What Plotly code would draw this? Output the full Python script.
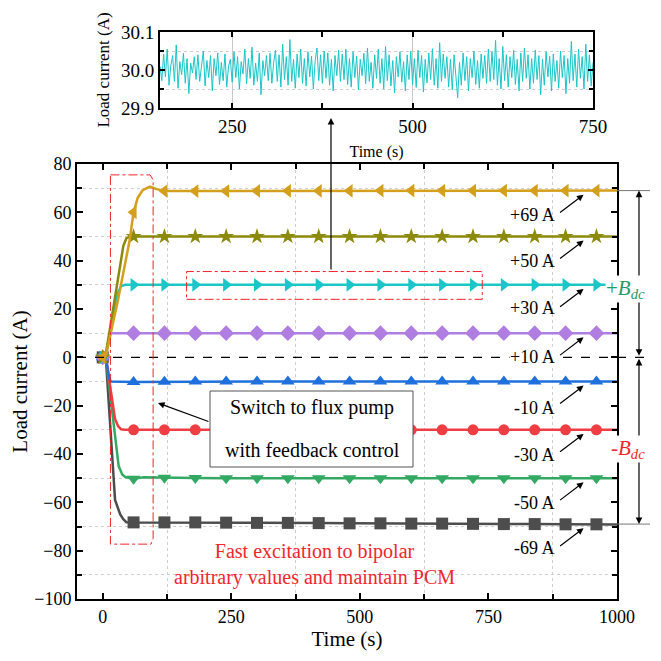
import numpy as np
import plotly.graph_objects as go

# main curves: time (s) and load current (A)
t_steady = [120, 180, 240, 300, 360, 420, 480, 540, 600, 660, 720, 780, 840, 900, 960, 1000]

t_p69 = [0, 6, 30, 52, 60, 68, 78, 92, 105] + t_steady
i_p69 = [0, 0.5, 24, 48, 60, 66, 69.2, 70.6, 69.6,
         68.8, 68.8, 68.8, 68.9, 68.9, 68.9, 68.9, 69.0, 69.0, 69.0, 69.0, 69.0, 69.0, 69.0, 69.0, 69.0]

t_p50 = [0, 5, 40, 46, 55, 60] + t_steady
i_p50 = [0, 0, 46, 49.3, 50, 50,
         50, 50, 50, 50, 50, 50, 50, 50, 50, 50, 50, 50, 50, 50, 50, 50]

t_p30 = [0, 5, 30, 36, 44, 60] + t_steady
i_p30 = [0, 0, 27, 29.5, 30, 30,
         30, 30, 30, 30, 30, 30, 30, 30, 30, 30, 30, 30, 30, 30, 30, 30]

t_p10 = [0, 6, 13, 17, 60] + t_steady
i_p10 = [0, 0, 9, 10, 10,
         10, 10, 10, 10, 10, 10, 10, 10, 10, 10, 10, 10, 10, 10, 10, 10]

t_m10 = [0, 6, 13, 16, 60] + t_steady
i_m10 = [0, 0, -9, -10, -10.2,
         -10.1, -10, -10, -10, -10, -10, -10, -10, -10, -10, -10, -10, -10, -10, -10, -10]

t_m30 = [0, 6, 24, 30, 36, 42, 60] + t_steady
i_m30 = [0, 0, -25.5, -28.5, -29.8, -30, -30,
         -30, -30, -30, -30, -30, -30, -30, -30, -30, -30, -30, -30, -30, -30, -30, -30]

t_m50 = [0, 6, 31, 38, 44, 52, 60, 80] + t_steady
i_m50 = [0, 0, -45, -48.5, -49.5, -49.8, -50.2, -49.6,
         -49.8, -49.9, -50, -50, -50, -50, -50, -50, -50, -50, -50, -50, -50, -50, -50, -50]

t_m69 = [0, 6, 24, 30, 34, 40, 46, 60] + t_steady
i_m69 = [0, 0, -59, -63, -65, -67, -68.2, -68.3,
         -68.3, -68.3, -68.4, -68.5, -68.5, -68.6, -68.7, -68.7, -68.8, -68.8, -68.9, -69.0, -69.0, -69.1, -69.1, -69.2]

names = ["+69 A", "+50 A", "+30 A", "+10 A", "-10 A", "-30 A", "-50 A", "-69 A"]
times = [t_p69, t_p50, t_p30, t_p10, t_m10, t_m30, t_m50, t_m69]
currents = [i_p69, i_p50, i_p30, i_p10, i_m10, i_m30, i_m50, i_m69]
targets = [69, 50, 30, 10, -10, -30, -50, -69]
colors = ["#d49f1c", "#8c8a0c", "#1cc6c8", "#b07ee0", "#1f70dc", "#ee3e43", "#34a963", "#4d4d4d"]
symbols = ["triangle-left", "star", "triangle-right", "diamond", "triangle-up", "circle", "triangle-down", "square"]

# inset: load current ripple around 30 A, deviation in mA, one sample every 2.5 s from 150 s
ripple_ma = [
    10, -28, 42, -18, 55, -40, 12, 38, -30, 66, -48, 22, -12, 44, -35, 30, -62, 18, -8, 35,
    -25, 40, -30, 15, 50, -42, 25, -20, 38, -55, 30, -15, 45, -38, 20, -28, 42, -45, 10, 28,
    -32, 48, -20, 35, -50, 22, -10, 55, -36, 30, -22, 60, -40, 18, -30, 45, -65, 25, -15, 38,
    -28, 44, -35, 20, 52, -30, 40, -45, 68, -25, 35, -40, 80, -30, 28, -48, 42, -20, 55, -35,
    30, -42, 48, -18, 36, -50, 25, 58, -28, 40, -35, 50, -22, 45, -40, 28, -55, 38, -15, 52,
    -30, 42, -25, 55, -38, 30, -45, 48, -20, 36, -52, 28, -15, 44, -36, 58, -30, 20, -48, 40,
    -22, 55, -35, 30, -50, 62, -28, 40, -42, 25, -60, 35, -18, 48, -32, 22, -55, 40, -25, 50,
    -38, 30, -46, 52, -20, 38, -58, 28, -34, 45, -25, 56, -40, 30, -48, 72, -30, 42, -22, 35,
    -45, 28, -52, 40, -30, -73, 20, -40, 45, -28, 35, -55, 30, -20, 50, -38, 25, -48, 42, -22,
    38, -35, 55, -30, 48, -25, 78, -40, 30, -50, 62, -28, 40, -45, 35, -20, 52, -38, 28, -55,
    45, -30, 58, -22, 40, -50, 30, -35, 52, -25, 38, -65, 28, -40, 48, -18, 36, -55, 42, -30,
    25, -48, 50, -20, 38, -62, 30, -35, 75, -28, 42, -45, 55, -22, 35, -50, 68, -30, 40, -42,
    20,
]
t_inset = 150 + 2.5 * np.arange(len(ripple_ma))
i_inset = 30 + np.array(ripple_ma) / 1000

FONT = "Liberation Serif"
# the page body adds an 8 px margin, so the figure is drawn 8 px in from the window edge
OFF = 8
W = H = 661 - OFF


def px(xp):
    return (xp - OFF) / W


def py(yp):
    return 1 - (yp - OFF) / H


fig = go.Figure()

# draw the -69 A series first so the small curves sit on top of it at t = 0
for t, i, c, s, n in list(zip(times, currents, colors, symbols, names))[::-1]:
    fig.add_trace(go.Scatter(x=t, y=i, mode="lines", line=dict(color=c, width=2.5),
                             name=n, showlegend=False))
    tm = [a for a in t if a % 60 == 0]
    im = [b for a, b in zip(t, i) if a % 60 == 0]
    fig.add_trace(go.Scatter(x=tm, y=im, mode="markers", showlegend=False,
                             marker=dict(color=c, symbol=s, size=12 if s != "circle" else 11,
                                         line=dict(width=0))))

fig.add_trace(go.Scatter(x=t_inset, y=i_inset, mode="lines", xaxis="x2", yaxis="y2",
                         line=dict(color="#19c6c8", width=1), showlegend=False))

axis_common = dict(showline=True, linecolor="black", linewidth=2, mirror="allticks",
                   ticks="inside", tickcolor="black", ticklen=6, tickwidth=1.5,
                   zeroline=False, automargin=False)

fig.update_layout(
    width=W, height=H,
    margin=dict(l=0, r=0, t=0, b=0, autoexpand=False),
    paper_bgcolor="white", plot_bgcolor="white",
    font=dict(family=FONT, size=18, color="black"),
    showlegend=False,
    xaxis=dict(axis_common, domain=[px(77), px(617)], range=[-50, 1000],
               tickmode="array", tickvals=[0, 250, 500, 750, 1000], showgrid=False,
               minor=dict(tickmode="array", tickvals=[125, 375, 625, 875], ticks="inside",
                          ticklen=5, tickcolor="black", showgrid=True, gridcolor="#cfcfcf",
                          griddash="dot", gridwidth=1),
               title=dict(text="Time (s)", font=dict(size=21), standoff=6)),
    yaxis=dict(axis_common, domain=[py(599), py(164)], range=[-100, 80],
               tickmode="array", tickvals=list(range(-100, 81, 20)), showgrid=False,
               minor=dict(tickmode="array", tickvals=list(range(-90, 80, 20)), ticks="inside",
                          ticklen=5, tickcolor="black", showgrid=True, gridcolor="#cfcfcf",
                          griddash="dot", gridwidth=1),
               title=dict(text="Load current (A)", font=dict(size=21), standoff=6)),
    xaxis2=dict(axis_common, anchor="y2", domain=[px(160), px(593)], range=[150, 750],
                tickmode="array", tickvals=[250, 500, 750], showgrid=True,
                gridcolor="#c8c8c8", gridwidth=1, ticklen=5,
                minor=dict(tickmode="array", tickvals=[375, 625], ticks="inside",
                           ticklen=5, tickcolor="black"),
                tickfont=dict(size=19),
                title=dict(text="Time (s)", font=dict(size=16), standoff=10)),
    yaxis2=dict(axis_common, anchor="x2", domain=[py(108), py(32)], range=[29.9, 30.1],
                tickmode="array", tickvals=[29.9, 30.0, 30.1], ticktext=["29.9", "30.0", "30.1"],
                showgrid=False, ticklen=5,
                minor=dict(tickmode="array", tickvals=[29.95, 30.05], ticks="inside",
                           ticklen=4, tickcolor="black", showgrid=True, gridcolor="#cfcfcf",
                           griddash="dot"),
                tickfont=dict(size=19),
                title=dict(text="Load current (A)", font=dict(size=17), standoff=7)),
)

shapes = [
    # dashed zero line extended to the bracket
    dict(type="line", xref="paper", yref="y", x0=px(77), x1=px(650), y0=0, y1=0,
         line=dict(color="black", width=1.2, dash="dash")),
    dict(type="line", xref="paper", yref="y", x0=px(617), x1=px(650), y0=69, y1=69,
         line=dict(color="#777777", width=1)),
    dict(type="line", xref="paper", yref="y", x0=px(617), x1=px(650), y0=-69, y1=-69,
         line=dict(color="#777777", width=1)),
    # fast excitation region
    dict(type="path", xref="x", yref="y",
         path="M 15,75.5 L 92,75.5 L 98,73.5 L 98,-75 L 94,-77.3 L 15,-77.3 Z",
         line=dict(color="#f0262c", width=1, dash="dashdot")),
    # region shown in inset
    dict(type="rect", xref="x", yref="y", x0=163, x1=738, y0=24, y1=35.5,
         line=dict(color="#f0262c", width=1, dash="dashdot")),
    # text box
    dict(type="rect", xref="paper", yref="paper", x0=px(210), x1=px(413), y0=py(467), y1=py(391),
         line=dict(color="#555555", width=1), fillcolor="white", layer="above"),
]
fig.update_layout(shapes=shapes)

ann = []
label_y = [59, 39.8, 20.5, 0, -20.8, -40.3, -60.2, -78.8]
for n, ty, tv in zip(names, label_y, targets):
    ann.append(dict(x=882, y=ty, xref="x", yref="y", text=n, showarrow=False,
                    xanchor="right", yanchor="middle", font=dict(size=18),
                    bgcolor="white" if tv == 10 else None, borderpad=0))
    ann.append(dict(x=935, y=tv - 1.7, xref="x", yref="y", text="", showarrow=True,
                    ax=-25, ay=19, arrowhead=2, arrowsize=1.1, arrowwidth=1.2,
                    arrowcolor="black"))

# B_dc brackets
ann.append(dict(x=px(639), y=69, xref="paper", yref="y", ax=0, ay=0, axref="pixel", ayref="y",
                text="", showarrow=True, arrowside="end+start", arrowhead=2, arrowsize=1.1,
                arrowwidth=1.2, arrowcolor="black"))
ann.append(dict(x=px(639), y=-69, xref="paper", yref="y", ax=0, ay=0, axref="pixel", ayref="y",
                text="", showarrow=True, arrowside="end+start", arrowhead=2, arrowsize=1.1,
                arrowwidth=1.2, arrowcolor="black"))
ann.append(dict(x=px(646), y=py(289), xref="paper", yref="paper", showarrow=False,
                xanchor="right", yanchor="middle",
                text="+<i>B</i><sub><i>dc</i></sub>", font=dict(size=21, color="#27996a"),
                bgcolor="white", borderpad=0))
ann.append(dict(x=px(646), y=py(449), xref="paper", yref="paper", showarrow=False,
                xanchor="right", yanchor="middle",
                text="-<i>B</i><sub><i>dc</i></sub>", font=dict(size=21, color="#f0262c"),
                bgcolor="white", borderpad=0))

# switch box text and arrow
ann.append(dict(x=px(312), y=py(407), xref="paper", yref="paper", showarrow=False,
                xanchor="center", yanchor="middle",
                text="Switch to flux pump", font=dict(size=20)))
ann.append(dict(x=px(312), y=py(450), xref="paper", yref="paper", showarrow=False,
                xanchor="center", yanchor="middle",
                text="with feedback control", font=dict(size=20)))
ann.append(dict(x=px(158), y=py(403), xref="paper", yref="paper", text="", showarrow=True,
                ax=52, ay=19, arrowhead=2, arrowsize=1.1, arrowwidth=1.2, arrowcolor="black"))

ann.append(dict(x=px(314), y=py(564), xref="paper", yref="paper", showarrow=False,
                xanchor="center", yanchor="middle",
                text="Fast excitation to bipolar<br>arbitrary values and maintain PCM",
                font=dict(size=20, color="#f0262c")))

# arrow from inset region up to inset
ann.append(dict(x=px(331), y=py(118), xref="paper", yref="paper", text="", showarrow=True,
                ax=0, ay=153, arrowhead=2, arrowsize=1.1, arrowwidth=1.2, arrowcolor="black"))

fig.update_layout(annotations=ann)

fig.write_html("out.html")
